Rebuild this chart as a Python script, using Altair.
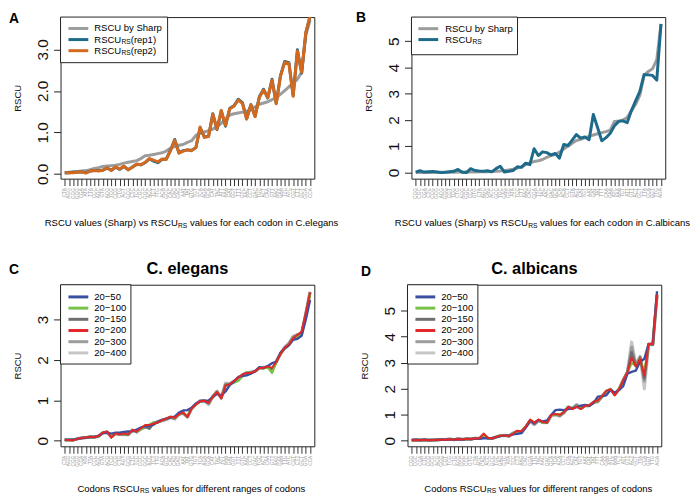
import altair as alt
import pandas as pd

# ---------------- data ----------------
codons_elegans = ["CTA","AGG","CGG","GGG","CGA","ATA","TTA","CCC","AGC","GTA",
                  "ACG","TCG","CCG","CTG","AGT","GCG","CTC","TCC","CGC","GGC",
                  "ACC","TCT","TTG","ACA","GCC","CAC","CAG","GAG","AAT","TAT",
                  "GTG","TGT","TCA","AGA","GCA","CAT","TAC","ATT","AAA","GAT",
                  "GGT","TTT","GTC","AAC","CCT","GAC","TGC","ACT","CAA","GTT",
                  "AAG","GAA","TTC","ATC","CGT","CTT","GCT","GGA","CCA"]
codons_albicans = ["CGG","CGC","CGA","CTC","CCG","GCG","ACG","GGG","CGT","TCG",
                   "CTG","AGG","GGC","CCC","GTG","CTA","AGC","CAG","ACC","GCC",
                   "TGC","GAG","GTC","ATA","TCC","CTT","AAG","CAC","GGA","TTC",
                   "TAC","AAC","GAC","GCA","TCA","ACA","CCT","GTA","AGT","CAT",
                   "TGT","AAT","GAT","TAT","TTT","CAA","GAA","ATC","AAA","TCT",
                   "ATT","GTT","ACT","GCT","TTA","CCA","GGT","TTG","AGA"]

A_sharp = [0.03,0.04,0.05,0.06,0.07,0.08,0.10,0.13,0.15,0.18,
           0.19,0.20,0.21,0.23,0.26,0.28,0.30,0.32,0.37,0.44,
           0.45,0.47,0.49,0.51,0.55,0.62,0.66,0.69,0.71,0.76,
           0.80,0.93,0.98,1.01,1.04,1.08,1.14,1.22,1.32,1.42,
           1.45,1.47,1.49,1.51,1.56,1.62,1.68,1.71,1.74,1.79,
           1.83,1.92,2.01,2.10,2.18,2.28,2.45,3.35,3.70]
A_rep1 = [0.03,0.03,0.04,0.04,0.05,0.03,0.07,0.08,0.08,0.09,
          0.14,0.09,0.16,0.11,0.18,0.10,0.17,0.23,0.22,0.27,
          0.36,0.31,0.27,0.35,0.36,0.57,0.83,0.51,0.56,0.58,
          0.57,0.63,1.11,0.89,0.91,1.45,1.07,1.52,1.15,1.58,
          1.64,1.80,1.72,1.33,1.67,1.39,1.86,2.04,1.83,2.28,
          1.70,2.37,2.71,2.68,1.89,2.99,2.43,3.40,3.80]
A_rep2 = [0.02,0.03,0.03,0.04,0.05,0.02,0.07,0.08,0.07,0.09,
          0.15,0.08,0.17,0.12,0.19,0.10,0.16,0.24,0.22,0.28,
          0.37,0.33,0.29,0.36,0.35,0.56,0.81,0.50,0.55,0.58,
          0.56,0.64,1.13,0.88,0.90,1.44,1.08,1.53,1.17,1.57,
          1.63,1.78,1.70,1.32,1.66,1.38,1.84,2.02,1.84,2.26,
          1.69,2.35,2.69,2.66,1.87,2.96,2.45,3.42,3.80]

B_sharp = [0.00,0.00,0.00,0.00,0.01,0.01,0.01,0.01,0.01,0.01,
           0.02,0.02,0.02,0.02,0.02,0.03,0.03,0.03,0.04,0.05,
           0.06,0.08,0.10,0.13,0.17,0.22,0.30,0.37,0.42,0.45,
           0.50,0.58,0.65,0.70,0.78,0.90,1.00,1.12,1.22,1.27,
           1.32,1.38,1.43,1.48,1.52,1.56,1.62,1.95,1.97,2.00,
           2.10,2.35,2.60,2.95,3.70,3.85,3.95,4.30,5.65]
B_rs = [0.02,0.07,0.02,0.03,0.04,0.02,0.00,0.01,0.03,0.05,
        0.12,0.01,0.00,0.15,0.08,0.06,0.05,0.07,0.03,0.15,
        0.24,0.02,0.05,0.08,0.22,0.20,0.36,0.30,0.91,0.65,
        0.79,0.76,0.67,0.73,0.55,1.07,1.03,1.24,1.45,1.31,
        1.36,1.25,2.21,1.72,1.21,1.33,1.50,1.78,1.95,1.97,
        1.90,2.36,2.73,3.09,3.73,3.72,3.70,3.52,5.66]

C_50 = [0.03,0.03,0.03,0.05,0.07,0.08,0.09,0.10,0.12,0.19,
        0.20,0.18,0.20,0.20,0.22,0.23,0.24,0.28,0.33,0.36,
        0.37,0.40,0.47,0.52,0.55,0.58,0.60,0.70,0.75,0.76,
        0.82,0.92,0.98,0.99,1.00,1.08,1.16,1.12,1.22,1.38,
        1.46,1.58,1.60,1.62,1.66,1.72,1.82,1.80,1.85,1.92,
        1.95,2.18,2.28,2.36,2.50,2.52,2.60,3.00,3.48]
C_100 = [0.02,0.02,0.02,0.05,0.07,0.08,0.10,0.09,0.11,0.19,
         0.22,0.10,0.18,0.17,0.17,0.16,0.26,0.24,0.28,0.36,
         0.40,0.45,0.47,0.52,0.55,0.59,0.57,0.66,0.69,0.62,
         0.80,0.90,0.98,0.99,0.95,1.08,1.20,1.07,1.36,1.40,
         1.44,1.48,1.60,1.70,1.67,1.72,1.80,1.79,1.82,1.68,
         1.94,2.14,2.29,2.37,2.55,2.56,2.62,3.10,3.62]
C_150 = [0.02,0.02,0.02,0.05,0.07,0.08,0.10,0.09,0.12,0.20,
         0.22,0.09,0.18,0.16,0.17,0.15,0.27,0.23,0.30,0.35,
         0.30,0.44,0.46,0.51,0.55,0.58,0.56,0.66,0.69,0.60,
         0.80,0.90,0.98,0.99,0.93,1.09,1.20,1.06,1.38,1.40,
         1.47,1.55,1.63,1.68,1.68,1.72,1.80,1.80,1.83,1.76,
         1.95,2.15,2.30,2.38,2.55,2.60,2.66,3.14,3.66]
C_200 = [0.02,0.02,0.01,0.05,0.07,0.08,0.10,0.09,0.12,0.20,
         0.23,0.08,0.18,0.16,0.18,0.16,0.27,0.23,0.31,0.39,
         0.39,0.43,0.45,0.51,0.55,0.60,0.57,0.66,0.70,0.59,
         0.80,0.90,0.98,0.99,0.94,1.09,1.21,1.05,1.37,1.40,
         1.48,1.56,1.64,1.68,1.68,1.72,1.80,1.80,1.84,1.80,
         1.95,2.15,2.30,2.38,2.54,2.62,2.70,3.16,3.67]
C_300 = [0.02,0.02,0.02,0.05,0.07,0.08,0.10,0.09,0.12,0.20,
         0.22,0.10,0.18,0.16,0.16,0.15,0.26,0.22,0.30,0.34,
         0.33,0.44,0.47,0.50,0.53,0.58,0.55,0.66,0.68,0.60,
         0.80,0.90,0.99,0.99,0.92,1.10,1.22,1.06,1.40,1.41,
         1.47,1.55,1.63,1.68,1.69,1.72,1.80,1.81,1.83,1.74,
         1.96,2.15,2.31,2.40,2.57,2.62,2.65,3.15,3.68]
C_400 = [0.02,0.02,0.02,0.05,0.07,0.08,0.10,0.09,0.12,0.20,
         0.22,0.11,0.18,0.16,0.15,0.15,0.26,0.22,0.30,0.33,
         0.35,0.44,0.48,0.50,0.52,0.58,0.54,0.66,0.68,0.58,
         0.80,0.90,0.99,0.99,0.90,1.10,1.23,1.06,1.43,1.41,
         1.47,1.55,1.63,1.68,1.70,1.72,1.80,1.82,1.83,1.72,
         1.97,2.15,2.31,2.42,2.58,2.63,2.66,3.15,3.69]

D_50 = [0.03,0.03,0.03,0.04,0.03,0.03,0.04,0.05,0.04,0.05,
        0.05,0.06,0.05,0.07,0.07,0.08,0.08,0.10,0.10,0.10,
        0.14,0.18,0.20,0.20,0.25,0.27,0.30,0.52,0.78,0.68,
        0.80,0.75,0.78,1.00,1.18,1.20,1.18,1.22,1.25,1.30,
        1.35,1.38,1.35,1.45,1.70,1.72,1.75,1.95,1.85,1.95,
        2.10,2.58,2.65,2.70,3.05,3.15,3.72,3.72,5.75]
D_100 = [0.02,0.03,0.02,0.04,0.03,0.03,0.03,0.05,0.04,0.06,
         0.04,0.07,0.05,0.08,0.06,0.09,0.09,0.22,0.11,0.09,
         0.15,0.20,0.21,0.18,0.29,0.37,0.37,0.55,0.80,0.70,
         0.80,0.70,0.72,0.98,1.02,1.00,1.12,1.28,1.24,1.32,
         1.24,1.35,1.37,1.48,1.53,1.72,1.90,1.98,1.76,1.98,
         2.33,2.62,3.00,2.88,3.15,2.60,3.72,3.72,5.62]
D_150 = [0.02,0.04,0.02,0.04,0.02,0.03,0.03,0.05,0.05,0.06,
         0.04,0.08,0.05,0.08,0.06,0.10,0.09,0.24,0.11,0.09,
         0.15,0.20,0.21,0.18,0.29,0.37,0.37,0.55,0.78,0.66,
         0.80,0.71,0.70,0.99,1.02,0.98,1.10,1.30,1.23,1.35,
         1.24,1.35,1.36,1.49,1.52,1.71,1.91,1.98,1.77,1.98,
         2.33,2.64,3.40,2.88,3.20,2.40,3.71,3.71,5.61]
D_200 = [0.02,0.03,0.02,0.04,0.02,0.03,0.03,0.05,0.04,0.06,
         0.04,0.07,0.05,0.08,0.06,0.10,0.09,0.28,0.12,0.09,
         0.15,0.20,0.21,0.18,0.28,0.39,0.37,0.55,0.82,0.70,
         0.82,0.72,0.70,1.00,1.03,1.00,1.10,1.30,1.22,1.31,
         1.22,1.35,1.37,1.50,1.55,1.72,1.92,1.98,1.75,1.98,
         2.33,2.63,3.20,2.85,3.15,2.50,3.72,3.72,5.62]
D_300 = [0.02,0.05,0.03,0.04,0.02,0.03,0.03,0.05,0.05,0.07,
         0.04,0.08,0.06,0.07,0.07,0.10,0.09,0.22,0.10,0.09,
         0.15,0.20,0.21,0.19,0.30,0.36,0.37,0.55,0.76,0.64,
         0.79,0.70,0.70,0.98,1.01,0.96,1.09,1.30,1.24,1.38,
         1.25,1.35,1.35,1.48,1.51,1.70,1.90,1.98,1.79,1.98,
         2.33,2.65,3.60,2.90,3.22,2.30,3.70,3.70,5.60]
D_400 = [0.02,0.05,0.03,0.04,0.02,0.03,0.03,0.05,0.05,0.07,
         0.04,0.08,0.06,0.07,0.07,0.10,0.09,0.20,0.10,0.09,
         0.15,0.20,0.21,0.19,0.30,0.35,0.37,0.55,0.75,0.62,
         0.78,0.70,0.70,0.98,1.00,0.95,1.08,1.30,1.25,1.40,
         1.25,1.35,1.35,1.48,1.50,1.70,1.90,1.98,1.80,1.98,
         2.33,2.65,3.80,2.90,3.25,2.00,3.70,3.70,5.60]

range_labels = ["20\u221250", "20\u2212100", "20\u2212150", "20\u2212200", "20\u2212300", "20\u2212400"]
range_colors = ["#3a4fa2", "#78c146", "#6f6f6f", "#e3262a", "#9b9b9b", "#c6c6c6"]

# ---------------- style helpers ----------------
FONT = "Arial"
W, H = 256, 163
F = 9.6      # small text size (R cex 0.8)
FS = 6.7     # subscript size

AW = {' ': 278, '(': 333, ')': 333, '.': 278, '-': 333,
      'A': 667, 'B': 667, 'C': 722, 'D': 722, 'E': 667, 'F': 611, 'G': 778, 'H': 722,
      'I': 278, 'R': 722, 'S': 667, 'U': 722,
      'a': 556, 'b': 556, 'c': 500, 'd': 556, 'e': 556, 'f': 278, 'g': 556, 'h': 556,
      'i': 222, 'l': 222, 'n': 556, 'o': 556, 'p': 556, 'r': 333, 's': 500, 't': 278,
      'u': 556, 'v': 500, 'y': 500}


def tw(s, size):
    return sum(AW.get(ch, 556) for ch in s) / 1000.0 * size


one = pd.DataFrame({"k": [0]})


def txt(s, x, y, size, weight="normal", align="left", baseline="middle", color="black"):
    return alt.Chart(one).mark_text(text=s, fontSize=size, fontWeight=weight, align=align,
                                    baseline=baseline, font=FONT, color=color).encode(
        x=alt.value(x), y=alt.value(y))


def hline(x1, x2, y, color, width):
    return alt.Chart(one).mark_rule(color=color, strokeWidth=width).encode(
        x=alt.value(x1), x2=alt.value(x2), y=alt.value(y))


def box(x1, x2, y1, y2):
    return alt.Chart(one).mark_rect(fill="white", stroke="#222", strokeWidth=1).encode(
        x=alt.value(x1), x2=alt.value(x2), y=alt.value(y1), y2=alt.value(y2))


def sub_label(p1, p3, x, y, centre=False):
    """text p1 + subscript RS + p3 (p3 written after a space)"""
    w1, ws, wsp, w3 = tw(p1, F), tw("RS", FS), tw(" ", F), tw(p3, F)
    total = w1 + ws + (wsp if p3 and not p3.startswith("(") else 0) + w3
    x0 = x - total / 2 if centre else x
    P = x0 + w1
    layers = [txt(p1, P, y, F, align="right"), txt("RS", P + 0.3, y + 2.6, FS)]
    if p3:
        gap = 0 if p3.startswith("(") else wsp
        layers.append(txt(p3, P + ws + gap + 0.3, y, F))
    return layers, total


def long_df(codons, series):
    rows = []
    for name, vals in series.items():
        for i, (c, v) in enumerate(zip(codons, vals)):
            rows.append({"codon": c, "idx": i, "series": name, "value": v})
    return pd.DataFrame(rows)


def panel(codons, series, styles, ydom, yticks, yfmt, letter, lpos, xt_layers, legend_layers, title=None):
    df = long_df(codons, series)
    x = alt.X("codon:N", sort=codons, scale=alt.Scale(type="point", padding=2.32),
              axis=alt.Axis(title=None, labelAngle=270, labelFontSize=4.8, labelColor="#999",
                            tickSize=7, tickColor="#333", domain=False, labelPadding=2,
                            labelOverlap=False, labelFont=FONT))
    y = alt.Y("value:Q", scale=alt.Scale(domain=ydom, nice=False, zero=False),
              axis=alt.Axis(title="RSCU", values=yticks, format=yfmt, labelAngle=270,
                            labelAlign="center", labelBaseline="bottom", labelFontSize=15.5,
                            labelPadding=3, tickSize=7, tickColor="#222", domain=False,
                            labelColor="#111", titleFontSize=F, titleFontWeight="normal",
                            titlePadding=13, titleColor="#111", labelFont=FONT, titleFont=FONT))
    layers = []
    for name, color, width in styles:
        layers.append(
            alt.Chart(df).transform_filter(alt.datum.series == name)
            .mark_line(color=color, strokeWidth=width, clip=True, strokeJoin="round")
            .encode(x=x, y=y, order="idx:Q"))
    layers += legend_layers
    layers += xt_layers
    layers.append(txt(letter, lpos[0], lpos[1], 14, weight="bold", baseline="alphabetic"))
    if title:
        layers.append(txt(title, W / 2, -16, 16.5, weight="bold", align="center"))
    return alt.layer(*layers).properties(width=W, height=H)


# ---------------- panel A ----------------
xtA, totA = sub_label("RSCU values (Sharp) vs RSCU", "values for each codon in C.elegans", W / 2 + 4, H + 45, centre=True)
legA = [box(0, 108, 0, 46)]
legA += [hline(8, 28, 11.5, "#9c9c9c", 3), txt("RSCU by Sharp", 34, 11.5, F)]
legA += [hline(8, 28, 22.7, "#1d6a8a", 3)] + sub_label("RSCU", "(rep1)", 34, 22.7)[0]
legA += [hline(8, 28, 33.9, "#d2691e", 3)] + sub_label("RSCU", "(rep2)", 34, 33.9)[0]
pA = panel(codons_elegans,
           {"sharp": A_sharp, "rep1": A_rep1, "rep2": A_rep2},
           [("sharp", "#9c9c9c", 3), ("rep1", "#1d6a8a", 3), ("rep2", "#d2691e", 3)],
           [-0.114, 3.78], [0, 1, 2, 3], ".1f", "A", (-52, 6), xtA, legA)

# ---------------- panel B ----------------
xtB, totB = sub_label("RSCU values (Sharp) vs RSCU", "values for each codon in C.albicans", W / 2 + 4, H + 45, centre=True)
legB = [box(0, 107, 0, 38)]
legB += [hline(7, 27, 11.7, "#9c9c9c", 3), txt("RSCU by Sharp", 34, 11.7, F)]
legB += [hline(7, 27, 22.7, "#1d6a8a", 3)] + sub_label("RSCU", "", 34, 22.7)[0]
pB = panel(codons_albicans,
           {"sharp": B_sharp, "rs": B_rs},
           [("sharp", "#9c9c9c", 3), ("rs", "#1d6a8a", 3)],
           [-0.23, 5.92], [0, 1, 2, 3, 4, 5], "d", "B", (-56, 5), xtB, legB)


# ---------------- panels C / D ----------------
def range_legend():
    lay = [box(0, 71, 0, 80)]
    for i, (lab, col) in enumerate(zip(range_labels, range_colors)):
        yy = 12.3 + 11.3 * i
        lay += [hline(8, 28, yy, col, 3), txt(lab, 34, yy, F)]
    return lay


range_styles = [("20-400", "#c6c6c6", 3.2), ("20-300", "#9b9b9b", 3), ("20-150", "#6f6f6f", 2.6),
                ("20-100", "#78c146", 2.4), ("20-50", "#3a4fa2", 2.4), ("20-200", "#e3262a", 2)]

xtC, totC = sub_label("Codons RSCU", "values for different ranges of codons", W / 2 + 4, H + 43, centre=True)
pC = panel(codons_elegans,
           {"20-50": C_50, "20-100": C_100, "20-150": C_150, "20-200": C_200, "20-300": C_300, "20-400": C_400},
           range_styles, [-0.135, 3.86], [0, 1, 2, 3], "d", "C", (-52, -11), xtC, range_legend(),
           title="C. elegans")
xtD, totD = sub_label("Codons RSCU", "values for different ranges of codons", W / 2 + 4, H + 43, centre=True)
pD = panel(codons_albicans,
           {"20-50": D_50, "20-100": D_100, "20-150": D_150, "20-200": D_200, "20-300": D_300, "20-400": D_400},
           range_styles, [-0.21, 6.0], [0, 1, 2, 3, 4, 5], "d", "D", (-47, -9), xtD, range_legend(),
           title="C. albicans")

# ---------------- layout ----------------
ovA = max(0.0, W / 2 + 4 + totA / 2 - W)
s1 = int(round(352 - W - ovA - 56))
s2 = int(round(352 - W - 52))
row1 = alt.hconcat(pA, pB, spacing=s1)
row2 = alt.hconcat(pC, pD, spacing=s2)
chart = alt.vconcat(row1, row2, spacing=30).properties(padding=0).configure_view(
    stroke="#222", strokeWidth=1).configure_axis(grid=False)

chart.save("out.html", embed_options={"renderer": "svg", "actions": False})
